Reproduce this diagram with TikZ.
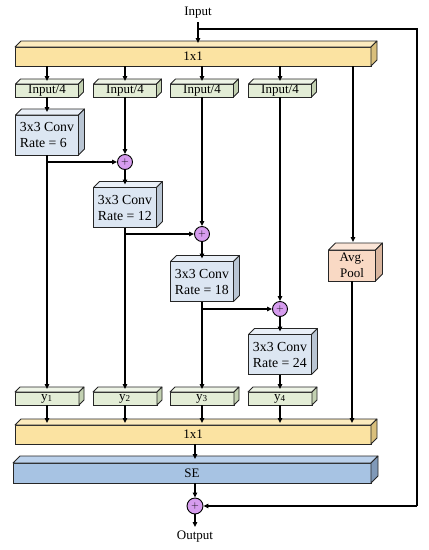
\documentclass[tikz,border=0pt]{standalone}
\usepackage{fontspec}
\setmainfont{Liberation Serif}
\usetikzlibrary{calc,arrows.meta}
\definecolor{yelF}{HTML}{FBE3A2}\definecolor{yelT}{HTML}{FCEBBE}\definecolor{yelS}{HTML}{D9BF7C}
\definecolor{grnF}{HTML}{E3EDD6}\definecolor{grnT}{HTML}{EEF4E6}\definecolor{grnS}{HTML}{C3D1B2}
\definecolor{bluF}{HTML}{DCE6F2}\definecolor{bluT}{HTML}{E9EFF7}\definecolor{bluS}{HTML}{B9C5D3}
\definecolor{orgF}{HTML}{F9D9C4}\definecolor{orgT}{HTML}{FBE5D7}\definecolor{orgS}{HTML}{D9B59E}
\definecolor{seF}{HTML}{A7C3E3}\definecolor{seT}{HTML}{BBD1EB}\definecolor{seS}{HTML}{8099B8}
\definecolor{plusF}{HTML}{D69CEE}
\newcommand{\faces}[4]{%
  \filldraw[fill=#2,draw=black!85,line width=0.8pt,line join=round] (#1.north west) -- ++(#4,-#4) -- ($(#1.north east)+(#4,-#4)$) -- (#1.north east) -- cycle;
  \filldraw[fill=#3,draw=black!85,line width=0.8pt,line join=round] (#1.north east) -- ++(#4,-#4) -- ($(#1.south east)+(#4,-#4)$) -- (#1.south east) -- cycle;}
\begin{document}
\begin{tikzpicture}[x=1pt,y=-1pt,
  font=\fontsize{13}{15.5}\selectfont,
  face/.style={draw=black!85,line width=0.8pt,inner sep=0pt,outer sep=0pt},
  wide/.style={face,minimum width=356pt,minimum height=19pt},
  small/.style={face,minimum width=63pt,minimum height=13pt,fill=grnF},
  conv/.style={face,minimum width=63pt,minimum height=40pt,fill=bluF,align=left,font=\fontsize{13.8}{16}\selectfont},
  plus/.style={circle,draw=black,line width=0.9pt,fill=plusF,minimum size=15pt,inner sep=0pt,font=\fontsize{10}{10}\selectfont},
  arr/.style={-{Triangle[length=5pt,width=4.5pt]},line width=1.3pt},
  ln/.style={line width=1.3pt}]
\useasboundingbox (0,0) rectangle (429,550);
% columns
\def\ca{47}\def\cb{125}\def\cc{202}\def\cd{280}
% input
\node (in) at (198,13) {Input};
\node[wide,fill=yelF] (top) at (193,56.5) {1x1};
\faces{top}{yelT}{yelS}{6}
% input/4 boxes
\node[small] (i1) at (\ca,90.5) {Input/4}; \faces{i1}{grnT}{grnS}{5}
\node[small] (i2) at (\cb,90.5) {Input/4}; \faces{i2}{grnT}{grnS}{5}
\node[small] (i3) at (\cc,90.5) {Input/4}; \faces{i3}{grnT}{grnS}{5}
\node[small] (i4) at (\cd,90.5) {Input/4}; \faces{i4}{grnT}{grnS}{5}
% conv
\node[conv] (c1) at (\ca,135) {3x3 Conv\\Rate = 6}; \faces{c1}{bluT}{bluS}{6}
\node[conv] (c2) at (\cb,207.5) {3x3 Conv\\Rate = 12}; \faces{c2}{bluT}{bluS}{6}
\node[conv] (c3) at (\cc,281.5) {3x3 Conv\\Rate = 18}; \faces{c3}{bluT}{bluS}{6}
\node[conv] (c4) at (\cd,354.5) {3x3 Conv\\Rate = 24}; \faces{c4}{bluT}{bluS}{6}
% avg pool
\node[face,fill=orgF,minimum width=47pt,minimum height=31pt,align=center] (ap) at (352,265.5) {Avg.\\Pool};
\faces{ap}{orgT}{orgS}{7}
% plus nodes
\node[plus] (p1) at (\cb,162) {$+$};
\node[plus] (p2) at (\cc,234) {$+$};
\node[plus] (p3) at (\cd,309) {$+$};
% y boxes
\node[small,minimum width=64pt] (y1) at (\ca,398.5) {y\textsubscript{1}}; \faces{y1}{grnT}{grnS}{5}
\node[small,minimum width=64pt] (y2) at (\cb,398.5) {y\textsubscript{2}}; \faces{y2}{grnT}{grnS}{5}
\node[small,minimum width=64pt] (y3) at (\cc,398.5) {y\textsubscript{3}}; \faces{y3}{grnT}{grnS}{5}
\node[small,minimum width=64pt] (y4) at (\cd,398.5) {y\textsubscript{4}}; \faces{y4}{grnT}{grnS}{5}
% bottom
\node[wide,fill=yelF] (bot) at (193,434.5) {1x1}; \faces{bot}{yelT}{yelS}{6}
\node[face,fill=seF,minimum width=358pt,minimum height=20pt] (se) at (192,473) {SE}; \faces{se}{seT}{seS}{7}
\node[plus,minimum size=16pt] (po) at (195,506) {$+$};
\node (out) at (195,537) {Output};
% connectors top
\coordinate (br) at (198,29);
\draw[arr] (in.south) -- ($(top.north)+(5,-4)$);
\draw[ln] (br) -- (417,29) -- (417,506) coordinate (rc);
\draw[arr] (rc) -- (po.east);
\foreach \i/\x in {1/\ca,2/\cb,3/\cc,4/\cd}{
  \draw[arr] (\x,66) -- ($(i\i.north)+(0,-3)$);
}
% column 1
\draw[arr] (i1.south) -- ($(c1.north)+(0,-3)$);
\draw[arr] (c1.south) -- ($(y1.north)+(0,-3)$);
\coordinate (b1) at (\ca,162);
\draw[arr] (b1) -- (p1.west);
% column 2
\draw[arr] (i2.south) -- (p1.north);
\draw[arr] (p1.south) -- ($(c2.north)+(0,-3)$);
\draw[arr] (c2.south) -- ($(y2.north)+(0,-3)$);
\coordinate (b2) at (\cb,234);
\draw[arr] (b2) -- (p2.west);
% column 3
\draw[arr] (i3.south) -- (p2.north);
\draw[arr] (p2.south) -- ($(c3.north)+(0,-3)$);
\draw[arr] (c3.south) -- ($(y3.north)+(0,-3)$);
\coordinate (b3) at (\cc,309);
\draw[arr] (b3) -- (p3.west);
% column 4
\draw[arr] (i4.south) -- (p3.north);
\draw[arr] (p3.south) -- ($(c4.north)+(0,-3)$);
\draw[arr] (c4.south) -- ($(y4.north)+(0,-3)$);
% avg pool
\coordinate (ta) at (353,66);
\draw[arr] (ta) -- (353,242);
\draw[arr] (ap.south) -- (352,423);
% y to bottom
\foreach \i/\x in {1/\ca,2/\cb,3/\cc,4/\cd}{
  \draw[arr] (y\i.south) -- (\x,423);
}
\draw[arr] (195,444) -- (195,459);
\draw[arr] (195,483) -- (po.north);
\draw[arr] (po.south) -- (195,527);
\end{tikzpicture}
\end{document}
